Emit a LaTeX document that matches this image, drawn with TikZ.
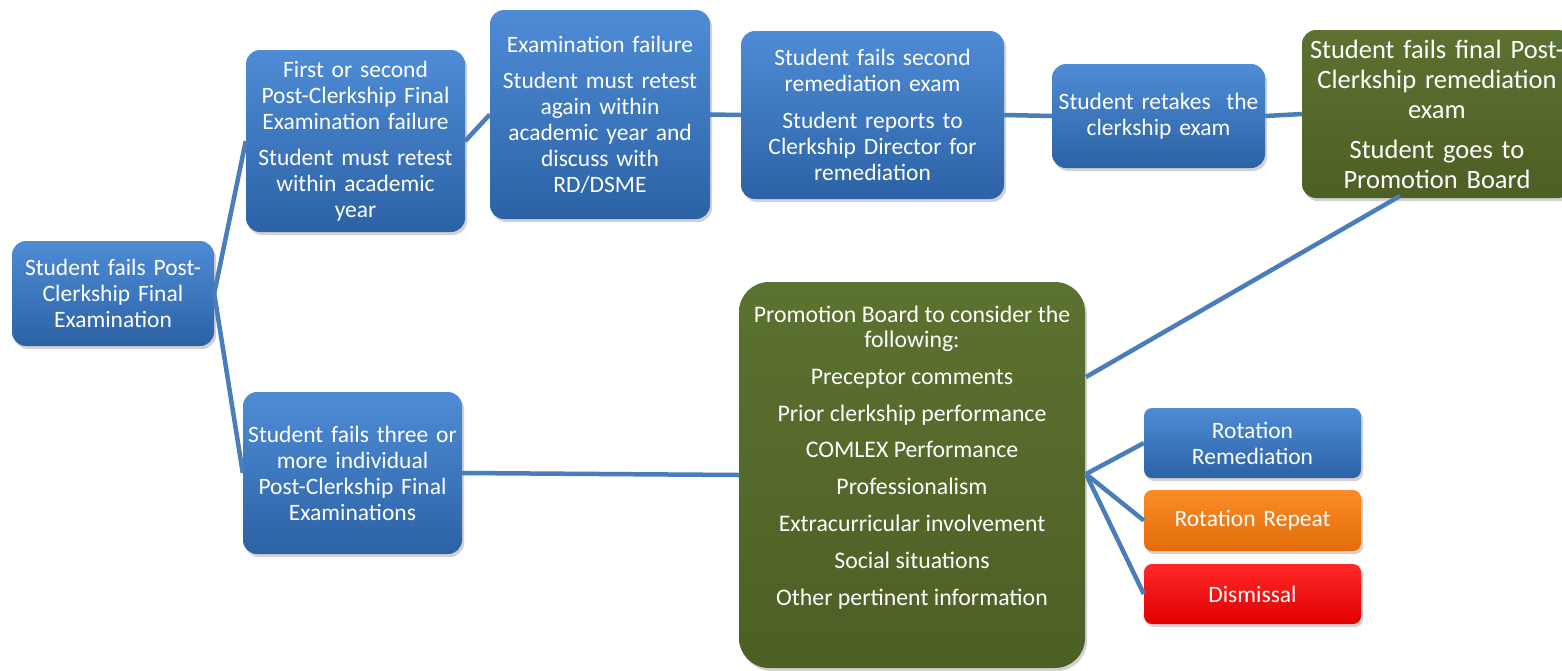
\documentclass[tikz,border=0pt]{standalone}
\usepackage{fontspec}
\setmainfont{Carlito}
\usetikzlibrary{shadows,calc}
\definecolor{bluetop}{RGB}{78,140,214}
\definecolor{bluebot}{RGB}{44,98,165}
\definecolor{greentop}{RGB}{92,114,48}
\definecolor{greenbot}{RGB}{76,95,37}
\definecolor{orangetop}{RGB}{250,140,40}
\definecolor{orangebot}{RGB}{226,108,10}
\definecolor{redtop}{RGB}{255,40,40}
\definecolor{redbot}{RGB}{225,0,0}
\definecolor{linkblue}{RGB}{74,126,187}
\tikzset{
  box/.style={rounded corners=14pt, draw=none, text=white, align=center, inner sep=0pt,
    font=\fontsize{23.5}{26}\selectfont,
    drop shadow={shadow xshift=2pt, shadow yshift=-3pt, opacity=0.35}},
  bluebox/.style={box, top color=bluetop, bottom color=bluebot},
  greenbox/.style={box, top color=greentop, bottom color=greenbot},
  orangebox/.style={box, top color=orangetop, bottom color=orangebot},
  redbox/.style={box, top color=redtop, bottom color=redbot},
  link/.style={draw=linkblue, line width=4.5pt}
}
\begin{document}
\begin{tikzpicture}[x=1pt,y=-1pt]
\useasboundingbox (0,0) rectangle (1562,670);
\clip (0,0) rectangle (1562,670);
\fill[white] (0,0) rectangle (1562,670);

\coordinate (Hfrom) at (1086,377);
\coordinate (Fto) at (1400,196);
\coordinate (Hsplit) at (1086,474);

\node[bluebox, minimum width=202pt, minimum height=105pt, text width=200pt] (A) at (113,293.5)
  {Student fails Post-\\Clerkship Final\\Examination};
\node[bluebox, minimum width=219pt, minimum height=182pt, text width=217pt] (B) at (355.5,141)
  {First or second\\Post-Clerkship Final\\Examination failure\\[10pt]Student must retest\\within academic\\year};
\node[bluebox, minimum width=220pt, minimum height=209pt, text width=218pt] (C) at (600,114.5)
  {Examination failure\\[10pt]Student must retest\\again within\\academic year and\\discuss with\\RD/DSME};
\node[bluebox, minimum width=263pt, minimum height=168pt, text width=260pt] (D) at (872.5,115)
  {Student fails second\\remediation exam\\[11pt]Student reports to\\Clerkship Director for\\remediation};
\node[bluebox, minimum width=213pt, minimum height=104pt, text width=210pt] (E) at (1158.5,116)
  {Student retakes\ \ the\\clerkship exam};
\node[greenbox, minimum width=270pt, minimum height=168pt, text width=268pt,
  font=\fontsize{26.5}{30}\selectfont] (F) at (1437,114)
  {Student fails final Post-\\Clerkship remediation\\exam\\[10pt]Student goes to\\Promotion Board};
\node[bluebox, minimum width=219pt, minimum height=162pt, text width=217pt] (G) at (352.5,473)
  {Student fails three or\\more individual\\Post-Clerkship Final\\Examinations};
\node[greenbox, rounded corners=30pt, minimum width=346pt, minimum height=386pt,
  font=\fontsize{23.8}{25}\selectfont] (H) at (912,475)
  {\parbox[c][356pt][t]{344pt}{\centering\vspace*{9pt}%
   Promotion Board to consider the\\following:\\[11.8pt]Preceptor comments\\[11.8pt]Prior clerkship performance\\[11.8pt]COMLEX Performance\\[11.8pt]Professionalism\\[11.8pt]Extracurricular involvement\\[11.8pt]Social situations\\[11.8pt]Other pertinent information}};
\node[bluebox, rounded corners=8pt, minimum width=217pt, minimum height=70pt, text width=215pt] (I) at (1252.5,443)
  {Rotation\\Remediation};
\node[orangebox, rounded corners=8pt, minimum width=217pt, minimum height=61pt, text width=215pt] (J) at (1252.5,520.5)
  {Rotation Repeat};
\node[redbox, rounded corners=8pt, minimum width=217pt, minimum height=60pt, text width=215pt] (K) at (1252.5,594)
  {Dismissal};

\draw[link] (A.east) -- (B.west);
\draw[link] (A.east) -- (G.west);
\draw[link] (B.east) -- (C.west);
\draw[link] (C.east) -- (D.west);
\draw[link] (D.east) -- (E.west);
\draw[link] (E.east) -- (F.west);
\draw[link] (Fto) -- (Hfrom);
\draw[link] (G.east) -- (H.west);
\draw[link] (Hsplit) -- (I.west);
\draw[link] (Hsplit) -- (J.west);
\draw[link] (Hsplit) -- (K.west);
\end{tikzpicture}
\end{document}
